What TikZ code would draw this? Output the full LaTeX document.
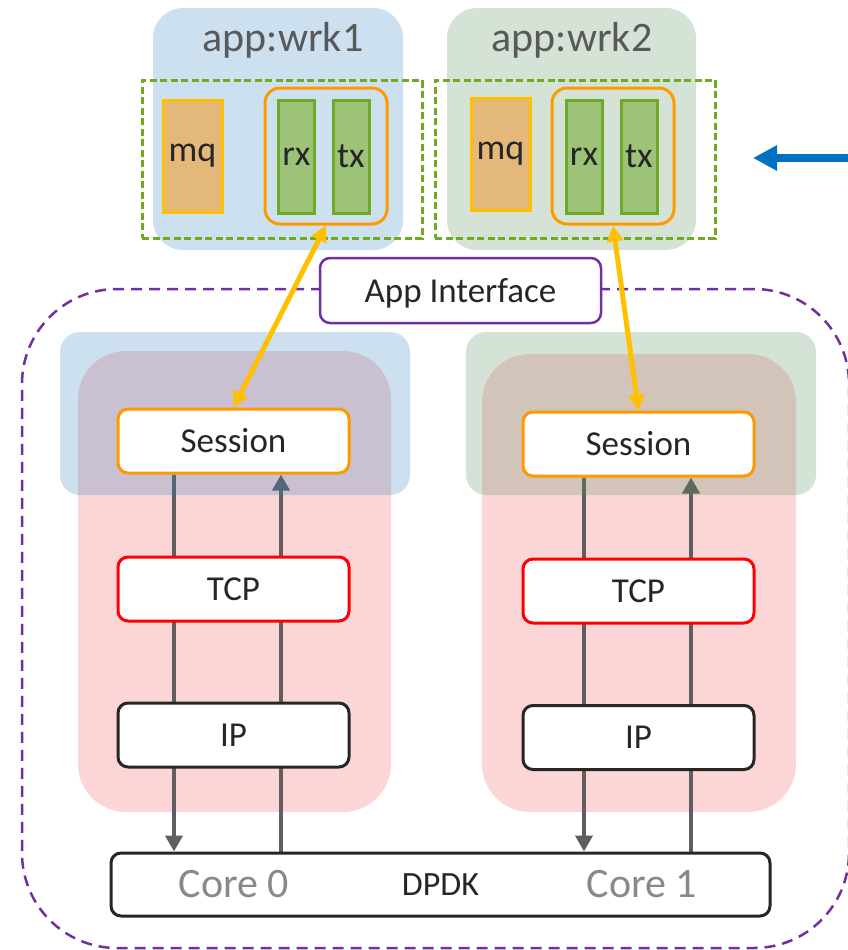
\documentclass[tikz,border=0pt]{standalone}
\usepackage{fontspec}
\setmainfont{Carlito}
\usetikzlibrary{arrows.meta}

\pgfdeclarelayer{base}
\pgfdeclarelayer{flow}
\pgfdeclarelayer{tint}
\pgfsetlayers{base,flow,tint,main}

\definecolor{wrkblue}{RGB}{52,132,196}
\definecolor{wrkgreen}{RGB}{88,144,96}
\definecolor{stackpink}{RGB}{252,214,214}
\definecolor{ifpurple}{RGB}{112,48,160}
\definecolor{qgreen}{RGB}{112,170,30}
\definecolor{ringfill}{RGB}{157,195,121}
\definecolor{ringedge}{RGB}{112,168,40}
\definecolor{mqfill}{RGB}{227,184,120}
\definecolor{mqedge}{RGB}{255,192,0}
\definecolor{sessedge}{RGB}{255,153,0}
\definecolor{tcpedge}{RGB}{255,0,0}
\definecolor{ipedge}{RGB}{38,38,38}
\definecolor{txtdark}{RGB}{38,38,38}
\definecolor{txtgray}{RGB}{89,89,89}
\definecolor{coregray}{RGB}{137,137,137}
\definecolor{flowgray}{RGB}{96,94,94}
\definecolor{linkyellow}{RGB}{255,192,0}
\definecolor{feedblue}{RGB}{0,112,192}

\newcommand{\setfs}[1]{\fontsize{#1}{#1}\selectfont}

\tikzset{
  every node/.style={inner sep=0pt},
  appbg/.style={rounded corners=30pt, minimum width=250, minimum height=242},
  apptitle/.style={anchor=base, font=\setfs{42}, text=txtgray},
  qframe/.style={draw=qgreen, line width=3pt, dash pattern=on 7pt off 3.5pt,
    minimum width=280, minimum height=158},
  mqbox/.style={draw=mqedge, fill=mqfill, line width=3pt, minimum width=59,
    minimum height=112, font=\setfs{36}, text=txtdark},
  ringbox/.style={draw=ringedge, fill=ringfill, line width=3pt, minimum width=36,
    minimum height=113, font=\setfs{36}, text=txtdark},
  pairbox/.style={draw=sessedge, line width=3pt, rounded corners=15pt,
    minimum width=122, minimum height=136},
  stackbg/.style={fill=stackpink, rounded corners=48pt},
  tintbox/.style={fill opacity=0.25, rounded corners=20pt, minimum width=350, minimum height=163},
  layerbox/.style={fill=white, line width=3pt, rounded corners=10pt, minimum width=231,
    minimum height=64, font=\setfs{35}, text=txtdark},
  flow/.style={draw=flowgray, line width=4.5pt, -{Triangle[length=16pt,width=17pt]}},
  link/.style={draw=linkyellow, line width=5pt,
    {Triangle[length=16pt,width=16pt]}-{Triangle[length=16pt,width=16pt]}},
  feed/.style={draw=feedblue, line width=7.5pt, -{Triangle[length=24pt,width=24pt]}},
}

\begin{document}
\begin{tikzpicture}[x=1pt,y=-1pt]
\useasboundingbox (0,0) rectangle (848,950);

% ---- application workers ----
\begin{pgfonlayer}{base}
  \node[appbg, fill=wrkblue!25] (app1) at (278,129) {};
  \node[appbg, fill=wrkgreen!25, minimum width=249] (app2) at (571.5,129) {};
  % host frame and per-core stacks
  \node[draw=ifpurple, line width=2.5pt, dash pattern=on 11pt off 7pt, rounded corners=95pt,
        minimum width=827, minimum height=659] (host) at (435.5,618.5) {};
  \node[stackbg, minimum width=313, minimum height=461] (pink1) at (234.5,581.5) {};
  \node[stackbg, minimum width=314, minimum height=458] (pink2) at (639,583) {};
\end{pgfonlayer}

\node[apptitle] (title1) at (283,52) {app:wrk1};
\node[apptitle] (title2) at (572,52) {app:wrk2};

\node[qframe] (qf1) at (282,159) {};
\node[qframe] (qf2) at (575,159) {};

\node[mqbox] (mq1) at (192.5,156) {mq};
\node[pairbox] (q1) at (326,156) {};
\node[ringbox] (rx1) at (296.5,156.5) {rx};
\node[ringbox] (tx1) at (351,156.5) {tx};

\node[mqbox] (mq2) at (500.5,154) {mq};
\node[pairbox] (q2) at (613,156) {};
\node[ringbox] (rx2) at (584,156.5) {rx};
\node[ringbox] (tx2) at (639,156.5) {tx};

% ---- protocol stacks ----
\node[layerbox, draw=sessedge] (s1) at (233.5,441) {Session};
\node[layerbox, draw=tcpedge]  (t1) at (233.5,589) {TCP};
\node[layerbox, draw=ipedge]   (i1) at (233.5,735) {IP};

\node[layerbox, draw=sessedge] (s2) at (638.5,444) {Session};
\node[layerbox, draw=tcpedge]  (t2) at (638.5,591) {TCP};
\node[layerbox, draw=ipedge]   (i2) at (638.5,737.5) {IP};

\node[layerbox, draw=ipedge, minimum width=659, minimum height=63, font=\setfs{34}]
  (dpdk) at (440.5,884.5) {DPDK};
\node[anchor=base, font=\setfs{42}, text=coregray] (core0) at (234,897.5) {Core 0};
\node[anchor=base, font=\setfs{42}, text=coregray] (core1) at (642,897.5) {Core 1};

\node[draw=ifpurple, fill=white, line width=2.5pt, rounded corners=10pt,
      minimum width=281, minimum height=65, text depth=0pt,
      font=\setfs{35}, text=txtdark] (appif) at (460.5,290.5) {App Interface};

% tinted session areas
\begin{pgfonlayer}{tint}
  \node[tintbox, fill=wrkblue] (tint1) at (235,413.5) {};
  \node[tintbox, fill=wrkgreen] (tint2) at (641,413.5) {};
\end{pgfonlayer}

% packet paths through each stack
\begin{pgfonlayer}{flow}
  \draw[flow] ([xshift=-59.5pt]s1.south) -- ([xshift=-59.5pt]s1.south |- dpdk.north);
  \draw[flow] ([xshift=47.5pt]s1.south |- dpdk.north) -- ([xshift=47.5pt]s1.south);
  \draw[flow] ([xshift=-54.5pt]s2.south) -- ([xshift=-54.5pt]s2.south |- dpdk.north);
  \draw[flow] ([xshift=52.5pt]s2.south |- dpdk.north) -- ([xshift=52.5pt]s2.south);
\end{pgfonlayer}

% app <-> session links
\draw[link] (q1.south) -- (s1.north);
\draw[link] (q2.south) -- (s2.north);

% incoming feed
\coordinate (feedin) at (849,158);
\coordinate (feedtip) at (753,158);
\draw[feed] (feedin) -- (feedtip);
\end{tikzpicture}
\end{document}
